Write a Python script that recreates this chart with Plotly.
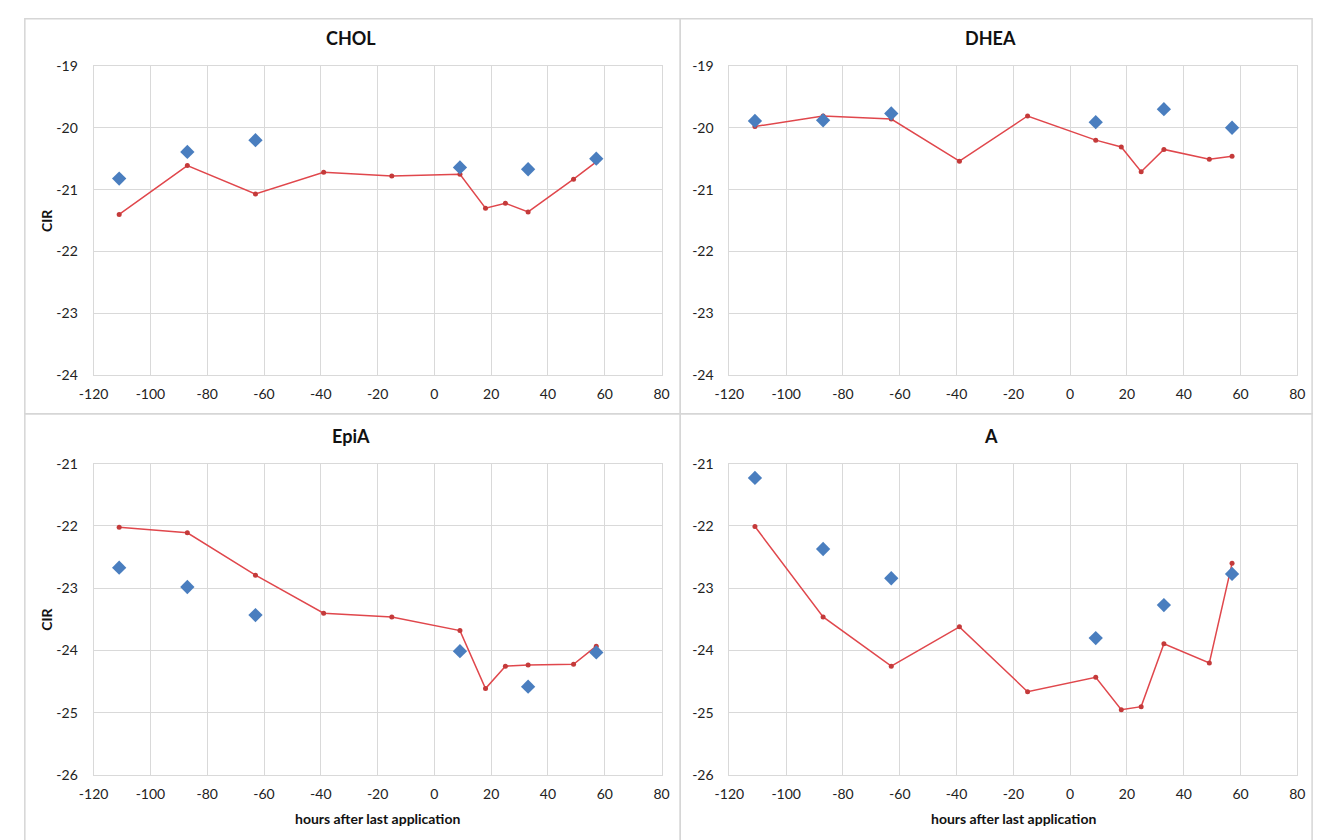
import plotly.graph_objects as go

# Sampling times (hours after last application)
hours_line = [-111, -87, -63, -39, -15, 9, 18, 25, 33, 49, 57]
hours_pts = [-111, -87, -63, 9, 33, 57]

# CIR values per compound: red line series and blue diamond series
chol_line = [-21.40, -20.61, -21.07, -20.72, -20.78, -20.75, -21.30, -21.22, -21.36, -20.83, -20.55]
chol_pts = [-20.82, -20.39, -20.20, -20.64, -20.67, -20.50]

dhea_line = [-19.98, -19.81, -19.86, -20.54, -19.81, -20.20, -20.31, -20.71, -20.35, -20.51, -20.46]
dhea_pts = [-19.89, -19.88, -19.77, -19.91, -19.70, -20.00]

epia_line = [-22.02, -22.11, -22.79, -23.40, -23.46, -23.68, -24.61, -24.25, -24.23, -24.22, -23.93]
epia_pts = [-22.67, -22.98, -23.43, -24.01, -24.58, -24.03]

a_line = [-22.01, -23.46, -24.25, -23.62, -24.66, -24.43, -24.95, -24.90, -23.89, -24.20, -22.60]
a_pts = [-21.23, -22.37, -22.84, -23.80, -23.27, -22.77]

titles = ["CHOL", "DHEA", "EpiA", "A"]

# axis ticks (hyphen-minus labels, as printed)
x_ticks = [-120, -100, -80, -60, -40, -20, 0, 20, 40, 60, 80]
x_labels = ["-120", "-100", "-80", "-60", "-40", "-20", "0", "20", "40", "60", "80"]
y_ticks_top = [-24, -23, -22, -21, -20, -19]
y_labels_top = ["-24", "-23", "-22", "-21", "-20", "-19"]
y_ticks_bot = [-26, -25, -24, -23, -22, -21]
y_labels_bot = ["-26", "-25", "-24", "-23", "-22", "-21"]

W, H = 1326, 840
FONT = "Lato, 'Open Sans', sans-serif"
GRID = "#d9d9d9"
RED_LINE = "#e0474c"
RED_DOT = "#c43a3a"
BLUE = "#4a7ebf"

# plot-area geometry in pixels
x_doms = [(80, 658), (727, 1305)]
y_doms = [(58, 374), (464, 782)]
title_x = [342, 993]


def px_x(v):
    return v / W


def px_y(v):
    return 1 - v / H


fig = go.Figure()

panels = [
    (chol_line, chol_pts),
    (dhea_line, dhea_pts),
    (epia_line, epia_pts),
    (a_line, a_pts),
]

layout = dict(
    width=W, height=H,
    margin=dict(l=0, r=0, t=0, b=0),
    paper_bgcolor="white", plot_bgcolor="white",
    showlegend=False,
    font=dict(family=FONT, size=14, color="#222"),
)

annotations = []
shapes = []

for i, (line_vals, pt_vals) in enumerate(panels):
    row, col = divmod(i, 2)
    n = i + 1
    xa = "x" if n == 1 else f"x{n}"
    ya = "y" if n == 1 else f"y{n}"
    fig.add_trace(go.Scatter(
        x=hours_line, y=line_vals, xaxis=xa, yaxis=ya, mode="lines+markers",
        line=dict(color=RED_LINE, width=1.5),
        marker=dict(color=RED_DOT, size=5),
    ))
    fig.add_trace(go.Scatter(
        x=hours_pts, y=pt_vals, xaxis=xa, yaxis=ya, mode="markers",
        marker=dict(color=BLUE, size=11, symbol="diamond"),
    ))
    yt, yl = (y_ticks_top, y_labels_top) if row == 0 else (y_ticks_bot, y_labels_bot)
    xd = x_doms[col]
    yd = y_doms[row]
    key_x = "xaxis" if n == 1 else f"xaxis{n}"
    key_y = "yaxis" if n == 1 else f"yaxis{n}"
    layout[key_x] = dict(
        domain=[px_x(xd[0]), px_x(xd[1])], anchor=ya,
        range=[x_ticks[0], x_ticks[-1]], tickvals=x_ticks, ticktext=x_labels,
        showgrid=True, gridcolor=GRID, gridwidth=1,
        showline=True, linecolor=GRID, mirror=True,
        zeroline=False, ticks="outside", ticklen=6, tickcolor="rgba(0,0,0,0)",
        tickfont=dict(family=FONT, size=14, color="#222"),
    )
    layout[key_y] = dict(
        domain=[px_y(yd[1]), px_y(yd[0])], anchor=xa,
        range=[yt[0], yt[-1]], tickvals=yt, ticktext=yl,
        showgrid=True, gridcolor=GRID, gridwidth=1,
        showline=True, linecolor=GRID, mirror=True,
        zeroline=False, ticks="outside", ticklen=12, tickcolor="rgba(0,0,0,0)",
        tickfont=dict(family=FONT, size=14, color="#222"),
    )
    # panel title
    annotations.append(dict(
        text=f"<b>{titles[i]}</b>", xref="paper", yref="paper",
        x=px_x(title_x[col]), y=px_y(yd[0] - 28),
        showarrow=False, font=dict(family=FONT, size=18, color="#111"),
        xanchor="center", yanchor="middle",
    ))
    if col == 0:
        annotations.append(dict(
            text="<b>CIR</b>", xref="paper", yref="paper",
            x=px_x(32), y=px_y((yd[0] + yd[1]) / 2), textangle=-90,
            showarrow=False, font=dict(family=FONT, size=14, color="#111"),
            xanchor="center", yanchor="middle",
        ))
    if row == 1:
        annotations.append(dict(
            text="<b>hours after last application</b>", xref="paper", yref="paper",
            x=px_x((xd[0] + xd[1]) / 2), y=px_y(826),
            showarrow=False, font=dict(family=FONT, size=14, color="#111"),
            xanchor="center", yanchor="middle",
        ))

# chart-area frames around each panel
frames = [(10, 10, 677, 413), (677, 10, 1320, 413), (10, 413, 677, 850), (677, 413, 1320, 850)]
for x0, y0, x1, y1 in frames:
    shapes.append(dict(
        type="rect", xref="paper", yref="paper",
        x0=px_x(x0), x1=px_x(x1), y0=px_y(y1), y1=px_y(y0),
        line=dict(color="#d6d6d6", width=1.5), fillcolor="rgba(0,0,0,0)", layer="below",
    ))

layout["annotations"] = annotations
layout["shapes"] = shapes
fig.update_layout(**layout)
fig.write_html("out.html")
